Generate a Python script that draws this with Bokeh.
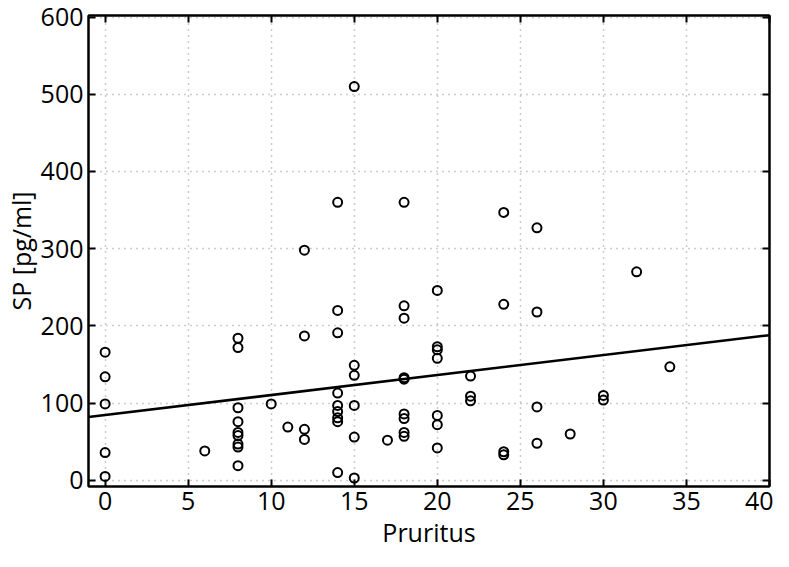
from bokeh.plotting import figure
from bokeh.models import LinearAxis, FixedTicker, Range1d, ColumnDataSource
from bokeh.embed import file_html
from bokeh.resources import INLINE

# Data
pruritus = [0, 0, 0, 0, 0,
            6,
            8, 8, 8, 8, 8, 8, 8, 8, 8,
            10, 11,
            12, 12, 12, 12,
            14, 14, 14, 14, 14, 14, 14, 14, 14,
            15, 15, 15, 15, 15, 15,
            17,
            18, 18, 18, 18, 18, 18, 18, 18, 18,
            20, 20, 20, 20, 20, 20, 20,
            22, 22, 22,
            24, 24, 24, 24,
            26, 26, 26, 26,
            28, 30, 30, 32, 34]
sp = [166, 134, 99, 36, 5,
      38,
      184, 172, 94, 76, 62, 58, 47, 43, 19,
      99, 69,
      298, 187, 66, 53,
      360, 220, 191, 113, 97, 89, 81, 76, 10,
      510, 149, 136, 97, 56, 3,
      52,
      360, 226, 210, 133, 131, 86, 80, 62, 57,
      246, 173, 169, 158, 84, 72, 42,
      135, 109, 103,
      347, 228, 37, 33,
      327, 218, 95, 48,
      60, 110, 104, 270, 147]

fit_x = [-1, 40]
fit_y = [82, 188]

x_ticks = [0, 5, 10, 15, 20, 25, 30, 35, 40]
y_ticks = [0, 100, 200, 300, 400, 500, 600]
x_title = "Pruritus"
y_title = "SP [pg/ml]"

FONT = "Open Sans"

p = figure(width=773, height=551,
           x_range=Range1d(-1, 40), y_range=Range1d(-8, 602),
           output_backend="svg", toolbar_location=None,
           min_border_left=80, min_border_right=4,
           min_border_top=15, min_border_bottom=0)

p.background_fill_color = "white"
p.border_fill_color = "white"
p.outline_line_color = "black"
p.outline_line_width = 2

# grid
for g, t in ((p.xgrid, x_ticks), (p.ygrid, y_ticks)):
    g.ticker = FixedTicker(ticks=t)
    g.grid_line_color = "#9a9a9a"
    g.grid_line_width = 1.5
    g.grid_line_dash = "1 5"

def style_axis(ax, ticks, show_labels):
    ax.ticker = FixedTicker(ticks=ticks)
    ax.axis_line_color = "black"
    ax.axis_line_width = 2
    ax.major_tick_in = 7
    ax.major_tick_out = 0
    ax.major_tick_line_width = 2
    ax.major_tick_line_color = "black"
    ax.minor_tick_line_color = None
    ax.major_label_text_font = FONT
    ax.major_label_text_font_size = "25px"
    if show_labels:
        ax.major_label_text_color = "black"
    else:
        ax.major_label_text_color = None
        ax.major_label_overrides = {t: "" for t in ticks}
        ax.major_label_standoff = 0

style_axis(p.xaxis[0], x_ticks, True)
style_axis(p.yaxis[0], y_ticks, True)
p.xaxis[0].major_label_standoff = 5
p.yaxis[0].major_label_standoff = 5

p.xaxis[0].axis_label = x_title
p.yaxis[0].axis_label = y_title
for ax in (p.xaxis[0], p.yaxis[0]):
    ax.axis_label_text_font = FONT
    ax.axis_label_text_font_size = "25px"
    ax.axis_label_text_font_style = "normal"
    ax.axis_label_text_color = "black"
p.xaxis[0].axis_label_standoff = 2
p.yaxis[0].axis_label_standoff = 0

top = LinearAxis()
style_axis(top, x_ticks, False)
p.add_layout(top, "above")
right = LinearAxis()
style_axis(right, y_ticks, False)
p.add_layout(right, "right")

src = ColumnDataSource(dict(x=pruritus, y=sp))
p.scatter("x", "y", source=src, size=9, marker="circle",
          fill_color=None, line_color="black", line_width=2)

p.line(fit_x, fit_y, line_color="black", line_width=2.5)

open("out.html", "w").write(file_html(p, INLINE))
